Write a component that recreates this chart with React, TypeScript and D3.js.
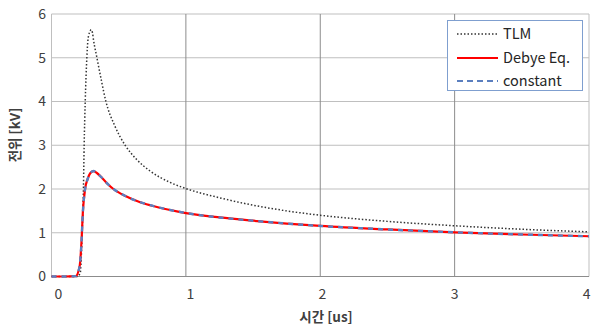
import { useEffect, useRef } from "react";
import * as d3 from "d3";

// time [us] and voltage [kV]
const tlmTime = [0, 0.1, 0.19, 0.214, 0.228, 0.238, 0.243, 0.251, 0.263, 0.271, 0.283, 0.296, 0.305, 0.313, 0.338, 0.37, 0.405, 0.47, 0.548, 0.635, 0.734, 0.883, 1.0, 1.25, 1.5, 1.75, 2.0, 2.5, 3.0, 3.5, 4.0];
const tlmVolt = [0, 0, 0, 0.08, 0.99, 2.06, 3.0, 4.0, 5.0, 5.4, 5.58, 5.64, 5.57, 5.4, 5.0, 4.5, 4.0, 3.45, 3.0, 2.67, 2.41, 2.15, 2.01, 1.8, 1.63, 1.5, 1.4, 1.26, 1.16, 1.08, 1.02];

const debyeTime = [0, 0.1, 0.18, 0.209, 0.224, 0.233, 0.25, 0.268, 0.288, 0.3125, 0.34, 0.38, 0.42, 0.461, 0.55, 0.65, 0.734, 0.883, 1.0, 1.25, 1.5, 1.75, 2.0, 2.5, 3.0, 3.5, 4.0];
const debyeVolt = [0, 0, 0.01, 0.23, 0.84, 1.45, 2.0, 2.22, 2.36, 2.41, 2.36, 2.24, 2.11, 2.0, 1.84, 1.71, 1.63, 1.52, 1.45, 1.35, 1.275, 1.21, 1.155, 1.075, 1.01, 0.96, 0.92];
const constVolt = [0, 0, 0.01, 0.23, 0.84, 1.45, 2.0, 2.22, 2.36, 2.41, 2.36, 2.24, 2.11, 2.0, 1.84, 1.71, 1.63, 1.52, 1.45, 1.35, 1.275, 1.21, 1.155, 1.075, 1.01, 0.96, 0.92];

const xTicks = [0, 1, 2, 3, 4];
const yTicks = [0, 1, 2, 3, 4, 5, 6];
const legendLabels = ["TLM", "Debye Eq.", "constant"];

export default function App() {
  const svgRef = useRef<SVGSVGElement>(null);

  useEffect(() => {
    if (!svgRef.current) return;
    const svg = d3.select(svgRef.current);
    svg.selectAll("*").remove();

    const x = d3.scaleLinear().domain([0, 4]).range([51.5, 589]);
    // excel spreads the category labels a bit differently from the gridlines
    const xLabel = d3.scaleLinear().domain([0, 4]).range([58.3, 586.7]);
    const y = d3.scaleLinear().domain([0, 6]).range([276.5, 14]);
    const font = "'Noto Sans CJK KR', 'Noto Sans', sans-serif";

    // grid
    svg.append("g")
      .selectAll("line")
      .data(yTicks.slice(1))
      .join("line")
      .attr("x1", x(0)).attr("x2", x(4))
      .attr("y1", d => y(d)).attr("y2", d => y(d))
      .attr("stroke", "#bfbfbf").attr("stroke-width", 1);

    svg.append("g")
      .selectAll("line")
      .data(xTicks)
      .join("line")
      .attr("x1", d => x(d)).attr("x2", d => x(d))
      .attr("y1", y(0)).attr("y2", y(6))
      .attr("stroke", d => (d === 0 || d === 4 ? "#bfbfbf" : "#8c8c8c"))
      .attr("stroke-width", 1);

    svg.append("line")
      .attr("x1", x(0)).attr("x2", x(4))
      .attr("y1", y(0)).attr("y2", y(0))
      .attr("stroke", "#8c8c8c");

    // tick labels
    svg.append("g")
      .selectAll("text")
      .data(yTicks)
      .join("text")
      .attr("x", 46).attr("y", d => y(d))
      .attr("dy", "0.35em")
      .attr("text-anchor", "end")
      .attr("font-family", font).attr("font-size", 14)
      .attr("fill", "#404040")
      .text(d => d);

    svg.append("g")
      .selectAll("text")
      .data(xTicks)
      .join("text")
      .attr("x", d => xLabel(d)).attr("y", 294)
      .attr("dy", "0.35em")
      .attr("text-anchor", "middle")
      .attr("font-family", font).attr("font-size", 14)
      .attr("fill", "#404040")
      .text(d => d);

    // axis titles
    svg.append("text")
      .attr("x", 326).attr("y", 317)
      .attr("dy", "0.35em")
      .attr("text-anchor", "middle")
      .attr("font-family", font).attr("font-size", 13.5).attr("font-weight", "bold")
      .attr("fill", "#404040")
      .text("시간 [us]");

    svg.append("text")
      .attr("transform", "translate(15,135) rotate(-90)")
      .attr("dy", "0.35em")
      .attr("text-anchor", "middle")
      .attr("font-family", font).attr("font-size", 13.5).attr("font-weight", "bold")
      .attr("fill", "#404040")
      .text("전위 [kV]");

    const line = d3.line<[number, number]>()
      .x(d => x(d[0]))
      .y(d => y(d[1]))
      .curve(d3.curveMonotoneX);

    const tlm = tlmTime.map((t, i) => [t, tlmVolt[i]] as [number, number]);
    const debye = debyeTime.map((t, i) => [t, debyeVolt[i]] as [number, number]);
    const cst = debyeTime.map((t, i) => [t, constVolt[i]] as [number, number]);

    svg.append("path")
      .attr("d", line(tlm))
      .attr("fill", "none")
      .attr("stroke", "#333")
      .attr("stroke-width", 1.5)
      .attr("stroke-dasharray", "1.5,2");

    svg.append("path")
      .attr("d", line(debye))
      .attr("fill", "none")
      .attr("stroke", "#ff0000")
      .attr("stroke-width", 2.2);

    svg.append("path")
      .attr("d", line(cst))
      .attr("fill", "none")
      .attr("stroke", "#5b7fbf")
      .attr("stroke-width", 2.4)
      .attr("stroke-dasharray", "5,5");

    // legend
    const lg = svg.append("g");
    lg.append("rect")
      .attr("x", 447.5).attr("y", 20.5)
      .attr("width", 135).attr("height", 70)
      .attr("fill", "white")
      .attr("stroke", "#7f9fcf");

    const styles = [
      { stroke: "#333", width: 1.5, dash: "1.5,2" },
      { stroke: "#ff0000", width: 2, dash: "" },
      { stroke: "#5b7fbf", width: 2, dash: "6,4" },
    ];
    const rows = [34, 58, 81];
    legendLabels.forEach((label, i) => {
      lg.append("line")
        .attr("x1", 457).attr("x2", 498)
        .attr("y1", rows[i]).attr("y2", rows[i])
        .attr("stroke", styles[i].stroke)
        .attr("stroke-width", styles[i].width)
        .attr("stroke-dasharray", styles[i].dash || null);
      lg.append("text")
        .attr("x", 503).attr("y", rows[i])
        .attr("dy", "0.35em")
        .attr("font-family", font).attr("font-size", 14.5)
        .attr("fill", "#262626")
        .text(label);
    });
  }, []);

  return (
    <svg
      ref={svgRef}
      width={592}
      height={329}
      style={{ position: "absolute", left: 0, top: 0, background: "white" }}
    />
  );
}
